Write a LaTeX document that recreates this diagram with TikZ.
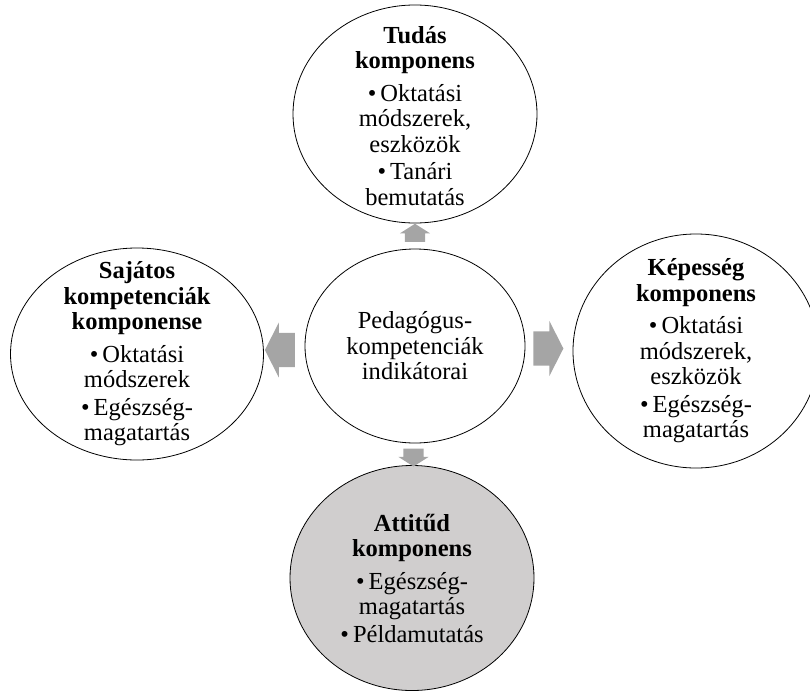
\documentclass[tikz,border=0pt]{standalone}
\usepackage{fontspec}
\setmainfont{Liberation Serif}
\usetikzlibrary{shapes.geometric,shapes.arrows,calc}

\definecolor{arrowgray}{RGB}{165,165,165}
\definecolor{fillgray}{RGB}{208,206,206}
\newcommand{\hd}[1]{\textbf{#1}}
\newcommand{\bul}{\textbullet\,}

\begin{document}
\begin{tikzpicture}[x=1pt, y=-1pt,
    comp/.style={draw, ellipse, line width=0.8pt, inner sep=0pt},
    txt/.style={align=center, inner sep=0pt, font=\fontsize{24.5}{25.5}\selectfont},
    blk/.style={single arrow, fill=arrowgray, draw=none, inner xsep=0pt},
    bigblk/.style={blk, inner ysep=17pt, minimum height=30pt,
        single arrow head extend=10.5pt, single arrow tip angle=126},
    smallblk/.style={blk, inner ysep=10pt, minimum height=18pt,
        single arrow head extend=5pt, single arrow tip angle=115}]
  \useasboundingbox (0,0) rectangle (810,693);

  % the five circles
  \node[comp, minimum width=220pt, minimum height=194pt] (C) at (415,346) {};
  \node[comp, minimum width=244pt, minimum height=218pt] (T) at (415,114) {};
  \node[comp, minimum width=253pt, minimum height=212pt] (S) at (137,354) {};
  \node[comp, minimum width=246pt, minimum height=234pt] (K) at (696,351) {};
  \node[comp, fill=fillgray, minimum width=244pt, minimum height=225pt] (A) at (412,578) {};

  % texts
  \node[txt] (Ct) at (C) {Pedagógus-\\kompetenciák\\indikátorai};
  \node[txt, yshift=-2pt] (Tt) at (T) {\hd{Tudás}\\\hd{komponens}\\[7pt]\bul Oktatási\\módszerek,\\eszközök\\[2pt]\bul Tanári\\bemutatás};
  \node[txt] (St) at (S) {\hd{Sajátos}\\\hd{kompetenciák}\\\hd{komponense}\\[7pt]\bul Oktatási\\módszerek\\[2pt]\bul Egészség-\\magatartás};
  \node[txt] (Kt) at (K) {\hd{Képesség}\\\hd{komponens}\\[7pt]\bul Oktatási\\módszerek,\\eszközök\\[2pt]\bul Egészség-\\magatartás};
  \node[txt] (At) at (A) {\hd{Attitűd}\\\hd{komponens}\\[7pt]\bul Egészség-\\magatartás\\[2pt]\bul Példamutatás};

  % block arrows between centre and circles
  \node[smallblk, rotate=90] (up) at ($(C.north)!0.5!(T.south)$) {};
  \node[smallblk, rotate=-90] (down) at ($(C.south)!0.5!(A.north)$) {};
  \node[bigblk, rotate=180] (left) at ($(C.west)!0.5!(S.east)$) {};
  \node[bigblk, xshift=-5pt] (right) at ($(C.east)!0.5!(K.west)$) {};
\end{tikzpicture}
\end{document}
